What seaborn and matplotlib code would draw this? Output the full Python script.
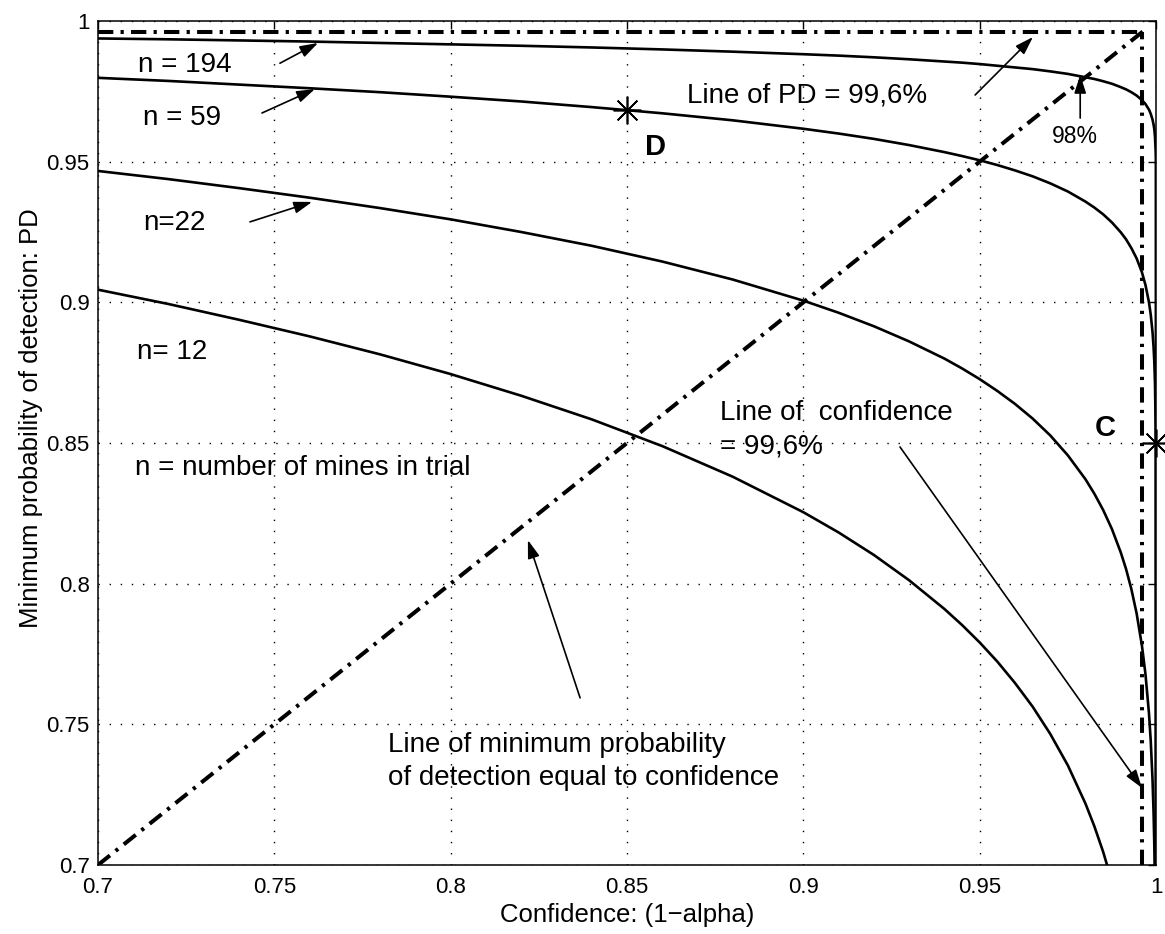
import matplotlib
matplotlib.use("Agg")
import matplotlib.pyplot as plt
import matplotlib.ticker as mticker
import seaborn as sns

# confidence (1 - alpha) sample points
conf = [0.70, 0.72, 0.74, 0.76, 0.78, 0.80, 0.82, 0.84, 0.86, 0.88, 0.90,
        0.91, 0.92, 0.93, 0.94, 0.945, 0.95, 0.955, 0.96, 0.965, 0.97,
        0.975, 0.98, 0.9825, 0.985, 0.9875, 0.99, 0.9915, 0.993, 0.9945,
        0.996, 0.997, 0.998, 0.9985, 0.999, 0.9993, 0.9995, 0.9997, 0.9999,
        0.99995, 1.0]

# minimum probability of detection for each trial size
pd_n12 = [0.9045, 0.8994, 0.8938, 0.8879, 0.8815, 0.8745, 0.8668, 0.8584,
          0.8489, 0.8380, 0.8254, 0.8182, 0.8102, 0.8012, 0.7910, 0.7853,
          0.7791, 0.7723, 0.7647, 0.7563, 0.7466, 0.7354, 0.7218, 0.7138,
          0.7047, 0.6941, 0.6813, 0.6721, 0.6613, 0.6482, 0.6312, 0.6163,
          0.5958, 0.5817, 0.5623, 0.5459, 0.5308, 0.5087, 0.4642, 0.4381,
          0.0]
pd_n22 = [0.9467, 0.9438, 0.9406, 0.9372, 0.9335, 0.9295, 0.9250, 0.9201,
          0.9145, 0.9081, 0.9006, 0.8963, 0.8915, 0.8861, 0.8800, 0.8765,
          0.8727, 0.8685, 0.8639, 0.8587, 0.8527, 0.8456, 0.8371, 0.8320,
          0.8262, 0.8194, 0.8111, 0.8052, 0.7981, 0.7894, 0.7780, 0.7679,
          0.7539, 0.7441, 0.7305, 0.7188, 0.7079, 0.6916, 0.6579, 0.6375,
          0.0]
pd_n59 = [0.9798, 0.9787, 0.9774, 0.9761, 0.9747, 0.9731, 0.9714, 0.9694,
          0.9672, 0.9647, 0.9617, 0.9600, 0.9581, 0.9559, 0.9534, 0.9520,
          0.9505, 0.9488, 0.9469, 0.9448, 0.9423, 0.9394, 0.9358, 0.9337,
          0.9313, 0.9284, 0.9249, 0.9224, 0.9193, 0.9156, 0.9107, 0.9062,
          0.9000, 0.8956, 0.8895, 0.8842, 0.8791, 0.8715, 0.8555, 0.8455,
          0.0]
pd_n194 = [0.9938, 0.9935, 0.9931, 0.9927, 0.9922, 0.9917, 0.9912, 0.9906,
           0.9899, 0.9891, 0.9882, 0.9877, 0.9871, 0.9864, 0.9856, 0.9852,
           0.9847, 0.9841, 0.9835, 0.9829, 0.9821, 0.9812, 0.9800, 0.9794,
           0.9786, 0.9777, 0.9765, 0.9757, 0.9747, 0.9735, 0.9719, 0.9705,
           0.9685, 0.9670, 0.9650, 0.9632, 0.9616, 0.9590, 0.9536, 0.9502,
           0.0]

diag_x = [0.70, 0.997]
diag_y = [0.70, 0.997]
pd_level = 0.996      # line of PD = 99,6%
conf_level = 0.996    # line of confidence = 99,6%

point_D = (0.85, 0.9684)
point_C = (1.0, 0.85)

ticks_x = [0.7, 0.75, 0.8, 0.85, 0.9, 0.95, 1.0]
ticks_y = [0.7, 0.75, 0.8, 0.85, 0.9, 0.95, 1.0]

sns.set_theme(style="white")
plt.rcParams['font.family'] = ['Liberation Sans', 'DejaVu Sans']
plt.rcParams['axes.unicode_minus'] = True
plt.rcParams['text.color'] = 'black'
plt.rcParams['axes.labelcolor'] = 'black'
plt.rcParams['xtick.color'] = 'black'
plt.rcParams['ytick.color'] = 'black'

fig, ax = plt.subplots(figsize=(11.65, 9.34), dpi=100)
fig.subplots_adjust(left=0.0841, right=0.9923, bottom=0.0739, top=0.9775)

for pd_vals in [pd_n12, pd_n22, pd_n59, pd_n194]:
    sns.lineplot(x=conf, y=pd_vals, color="black", linewidth=1.9,
                 sort=False, estimator=None, ax=ax, zorder=3)

dashdot = (0, (3.8, 1.8, 0.8, 1.8))
ax.plot(diag_x, diag_y, color="black", lw=2.9, linestyle=dashdot, zorder=3)
ax.plot([0.7, conf_level], [pd_level, pd_level], color="black", lw=2.9,
        linestyle=dashdot, zorder=3)
ax.plot([conf_level, conf_level], [0.7, pd_level], color="black", lw=2.9,
        linestyle=dashdot, zorder=3)

star = (8, 2, 0)
for px, py in [point_D, point_C]:
    ax.plot([px], [py], marker=star, ms=20, mew=1.2, color="black",
            linestyle="none", clip_on=False, zorder=4)

ax.set_xlim(0.7, 1.0)
ax.set_ylim(0.7, 1.0)
ax.set_xticks(ticks_x)
ax.set_yticks(ticks_y)
fmt = mticker.FuncFormatter(lambda v, p: f"{v:g}")
ax.xaxis.set_major_formatter(fmt)
ax.yaxis.set_major_formatter(fmt)
ax.tick_params(direction="in", length=6, width=1, top=True, right=True,
               labelsize=16, colors="black")
ax.tick_params(axis="x", pad=9)
ax.tick_params(axis="y", pad=6)
ax.grid(True, color="black", linestyle=(0, (1, 7)), linewidth=1.0, zorder=1)
for sp in ax.spines.values():
    sp.set_color("black")
    sp.set_linewidth(1.1)

ax.set_xlabel("Confidence: (1\u2212alpha)", fontsize=18.5, labelpad=3)
ax.set_ylabel("Minimum probability of detection: PD", fontsize=18.5)
ax.yaxis.set_label_coords(-0.052, 0.53)

txt = dict(fontsize=20, ha="left", va="center", color="black", zorder=5)
ax.text(0.7113, 0.9844, "n = 194", **txt)
ax.text(0.7128, 0.9655, "n = 59", **txt)
ax.text(0.7128, 0.9282, "n=22", **txt)
ax.text(0.7110, 0.8823, "n= 12", **txt)
ax.text(0.7105, 0.8411, "n = number of mines in trial", **txt)
ax.text(0.8670, 0.9737, "Line of PD = 99,6%", **txt)
ax.text(0.8764, 0.8607, "Line of  confidence", **txt)
ax.text(0.8764, 0.8486, "= 99,6%", **txt)
ax.text(0.7822, 0.7427, "Line of minimum probability", **txt)
ax.text(0.7822, 0.7309, "of detection equal to confidence", **txt)
ax.text(0.9705, 0.9588, "98%", fontsize=16.5, ha="left", va="center")
ax.text(0.8551, 0.9552, "D", fontsize=21, fontweight="bold", ha="left",
        va="center")
ax.text(0.9827, 0.8553, "C", fontsize=21, fontweight="bold", ha="left",
        va="center")

arrow = dict(arrowstyle="-|>,head_length=0.55,head_width=0.18",
             mutation_scale=20, color="black", lw=1.2, shrinkA=0, shrinkB=0)
arrows = [
    ((0.7516, 0.9850), (0.7624, 0.9922)),
    ((0.7465, 0.9673), (0.7615, 0.9758)),
    ((0.7431, 0.9286), (0.7607, 0.9357)),
    ((0.9487, 0.9737), (0.9651, 0.9943)),
    ((0.9785, 0.9655), (0.9785, 0.9808)),
    ((0.9274, 0.8486), (0.9960, 0.7274)),
    ((0.8367, 0.7594), (0.8219, 0.8155)),
]
for tail, head in arrows:
    ax.annotate("", xy=head, xytext=tail, arrowprops=arrow, zorder=5)

fig.savefig("out.png", dpi=100, facecolor="white")
